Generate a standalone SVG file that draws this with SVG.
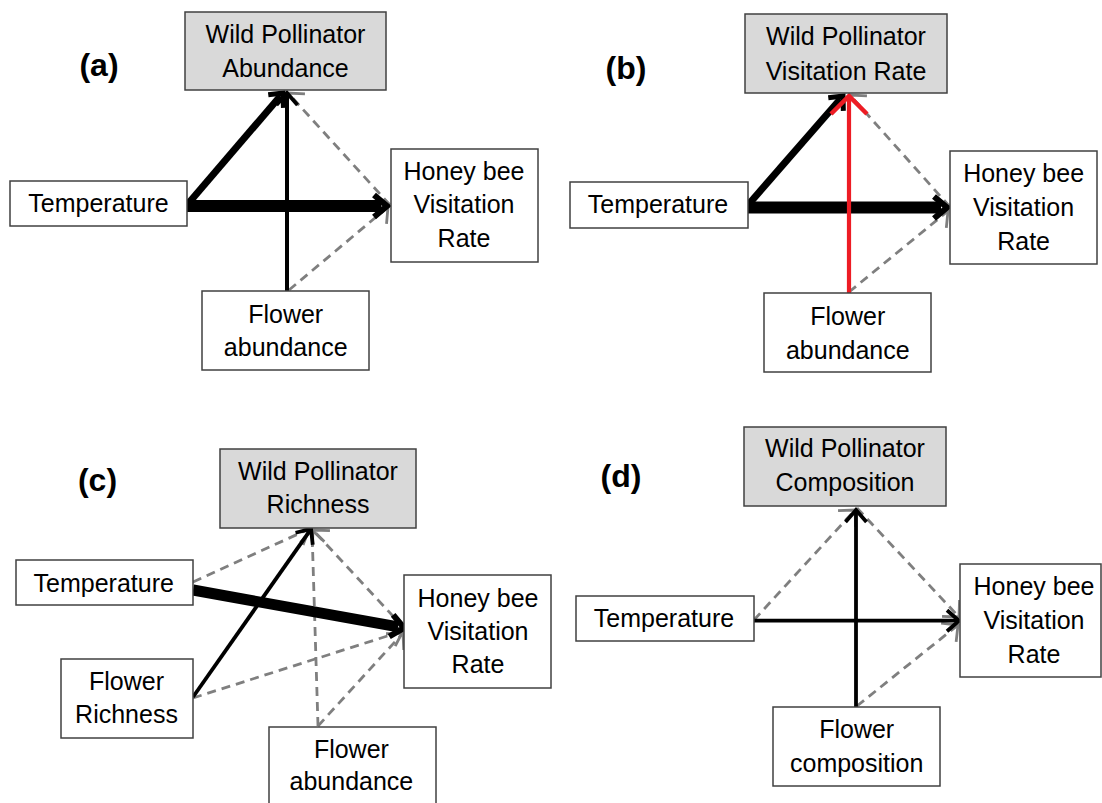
<svg xmlns="http://www.w3.org/2000/svg" width="1102" height="803" viewBox="0 0 1102 803">
<style>
.box{fill:#fff;stroke:#404040;stroke-width:1.5}
.dv{fill:#d9d9d9;stroke:#404040;stroke-width:1.5}
text{font-family:"Liberation Sans",Arial,sans-serif;font-size:25px;fill:#000;text-anchor:middle}
.lab{font-weight:bold;font-size:32px}
.dash{stroke:#7f7f7f;stroke-width:2.8;stroke-dasharray:9 6;fill:none;marker-end:url(#ahG)}
.blk{stroke:#000;fill:none}
</style>
<defs>
<marker id="ahG" markerUnits="userSpaceOnUse" markerWidth="30" markerHeight="30" refX="0" refY="0" orient="auto" overflow="visible"><path d="M-12,-12 L0,0 L-12,12" fill="none" stroke="#7f7f7f" stroke-width="2.8"/></marker>
<marker id="ahXL" markerUnits="userSpaceOnUse" markerWidth="30" markerHeight="30" refX="-6" refY="0" orient="auto" overflow="visible"><path d="M-13,-11 L0,0 L-13,11" fill="none" stroke="#000" stroke-width="6"/></marker>
<marker id="ahL" markerUnits="userSpaceOnUse" markerWidth="30" markerHeight="30" refX="-4" refY="0" orient="auto" overflow="visible"><path d="M-11,-10 L0,0 L-11,10" fill="none" stroke="#000" stroke-width="5"/></marker>
<marker id="ahM" markerUnits="userSpaceOnUse" markerWidth="30" markerHeight="30" refX="-2" refY="0" orient="auto" overflow="visible"><path d="M-12,-10.5 L0,0 L-12,10.5" fill="none" stroke="#000" stroke-width="3.8"/></marker>
<marker id="ahR" markerUnits="userSpaceOnUse" markerWidth="40" markerHeight="40" refX="-2" refY="0" orient="auto" overflow="visible"><path d="M-18,-18 L0,0 L-18,18" fill="none" stroke="#ed1c24" stroke-width="4.5"/></marker>
</defs>

<g id="connectors">
<!-- (a) -->
<line class="dash" x1="390" y1="205" x2="288" y2="93"/>
<line class="dash" x1="289" y1="290" x2="388" y2="207"/>
<line class="blk" stroke-width="12" x1="187" y1="206" x2="381" y2="206" marker-end="url(#ahXL)"/>
<line class="blk" stroke-width="7" x1="187" y1="205" x2="280.4" y2="96" marker-end="url(#ahL)"/>
<line class="blk" stroke-width="4" x1="287" y1="291" x2="287" y2="95" marker-end="url(#ahM)"/>
<!-- (b) -->
<line class="dash" x1="950" y1="207" x2="850" y2="95"/>
<line class="dash" x1="849" y1="292" x2="948" y2="211"/>
<line class="blk" stroke-width="12" x1="748" y1="207.5" x2="941" y2="207.5" marker-end="url(#ahXL)"/>
<line class="blk" stroke-width="7" x1="748" y1="205" x2="840.4" y2="99" marker-end="url(#ahL)"/>
<line stroke="#ed1c24" stroke-width="4.2" x1="849" y1="293" x2="849" y2="98" marker-end="url(#ahR)"/>
<!-- (c) -->
<line class="dash" x1="193" y1="582" x2="309" y2="529"/>
<line class="dash" x1="193" y1="698" x2="403" y2="631"/>
<line class="dash" x1="318" y1="726" x2="312" y2="530"/>
<line class="dash" x1="318" y1="726" x2="403" y2="633"/>
<line class="dash" x1="404" y1="628" x2="313" y2="530"/>
<line class="blk" stroke-width="11" x1="193" y1="590" x2="398.1" y2="626.9" marker-end="url(#ahXL)"/>
<line class="blk" stroke-width="3.8" x1="193" y1="697" x2="309.9" y2="530.6" marker-end="url(#ahM)"/>
<!-- (d) -->
<line class="dash" x1="754" y1="620" x2="855" y2="510"/>
<line class="dash" x1="857" y1="508" x2="959" y2="617"/>
<line class="dash" x1="857" y1="706" x2="958" y2="625"/>
<line class="blk" stroke-width="3.8" x1="754" y1="620.7" x2="957" y2="620.7" marker-end="url(#ahM)"/>
<line class="blk" stroke-width="3.8" x1="856" y1="707" x2="856" y2="512" marker-end="url(#ahM)"/>
</g>

<g id="label-a"><text class="lab" x="99" y="76">(a)</text></g>
<g id="a-wpa"><rect class="dv" x="185" y="12" width="201" height="78"/><text x="285.5" y="43.3">Wild Pollinator</text><text x="285.5" y="76.7">Abundance</text></g>
<g id="a-temp"><rect class="box" x="10" y="181" width="177" height="45"/><text x="98.5" y="211.7">Temperature</text></g>
<g id="a-hb"><rect class="box" x="391" y="149" width="147" height="113"/><text x="464" y="180">Honey bee</text><text x="464" y="213.3">Visitation</text><text x="464" y="246.7">Rate</text></g>
<g id="a-flower"><rect class="box" x="202" y="291" width="167" height="79"/><text x="285.7" y="322.7">Flower</text><text x="285.7" y="356">abundance</text></g>

<g id="label-b"><text class="lab" x="626" y="79">(b)</text></g>
<g id="b-wpvr"><rect class="dv" x="745" y="14" width="202" height="79"/><text x="846" y="45">Wild Pollinator</text><text x="846" y="80">Visitation Rate</text></g>
<g id="b-temp"><rect class="box" x="570" y="182" width="178" height="46"/><text x="658" y="213.3">Temperature</text></g>
<g id="b-hb"><rect class="box" x="950" y="151" width="147" height="113"/><text x="1023.6" y="181.7">Honey bee</text><text x="1023.6" y="216">Visitation</text><text x="1023.6" y="250">Rate</text></g>
<g id="b-flower"><rect class="box" x="764" y="293" width="167" height="79"/><text x="847.8" y="325">Flower</text><text x="847.8" y="359.3">abundance</text></g>

<g id="label-c"><text class="lab" x="97.5" y="491">(c)</text></g>
<g id="c-wpr"><rect class="dv" x="220" y="449" width="196" height="79"/><text x="318" y="480">Wild Pollinator</text><text x="318" y="513">Richness</text></g>
<g id="c-temp"><rect class="box" x="16" y="560" width="177" height="45"/><text x="103.7" y="591.7">Temperature</text></g>
<g id="c-fr"><rect class="box" x="61" y="659" width="132" height="79"/><text x="126.5" y="690">Flower</text><text x="126.5" y="723.3">Richness</text></g>
<g id="c-hb"><rect class="box" x="404" y="575" width="147" height="113"/><text x="478" y="606.7">Honey bee</text><text x="478" y="640">Visitation</text><text x="478" y="673.3">Rate</text></g>
<g id="c-fa"><rect class="box" x="269" y="727" width="167" height="80"/><text x="351.4" y="758.3">Flower</text><text x="351.4" y="790">abundance</text></g>

<g id="label-d"><text class="lab" x="621" y="487">(d)</text></g>
<g id="d-wpc"><rect class="dv" x="744" y="427" width="202" height="79"/><text x="845" y="456.7">Wild Pollinator</text><text x="845" y="490.7">Composition</text></g>
<g id="d-temp"><rect class="box" x="576" y="596" width="178" height="45"/><text x="664" y="626.7">Temperature</text></g>
<g id="d-hb"><rect class="box" x="960" y="564" width="141" height="113"/><text x="1034" y="595">Honey bee</text><text x="1034" y="629.3">Visitation</text><text x="1034" y="662.7">Rate</text></g>
<g id="d-fc"><rect class="box" x="773" y="707" width="167" height="79"/><text x="856.7" y="738.3">Flower</text><text x="856.7" y="771.7">composition</text></g>
</svg>
